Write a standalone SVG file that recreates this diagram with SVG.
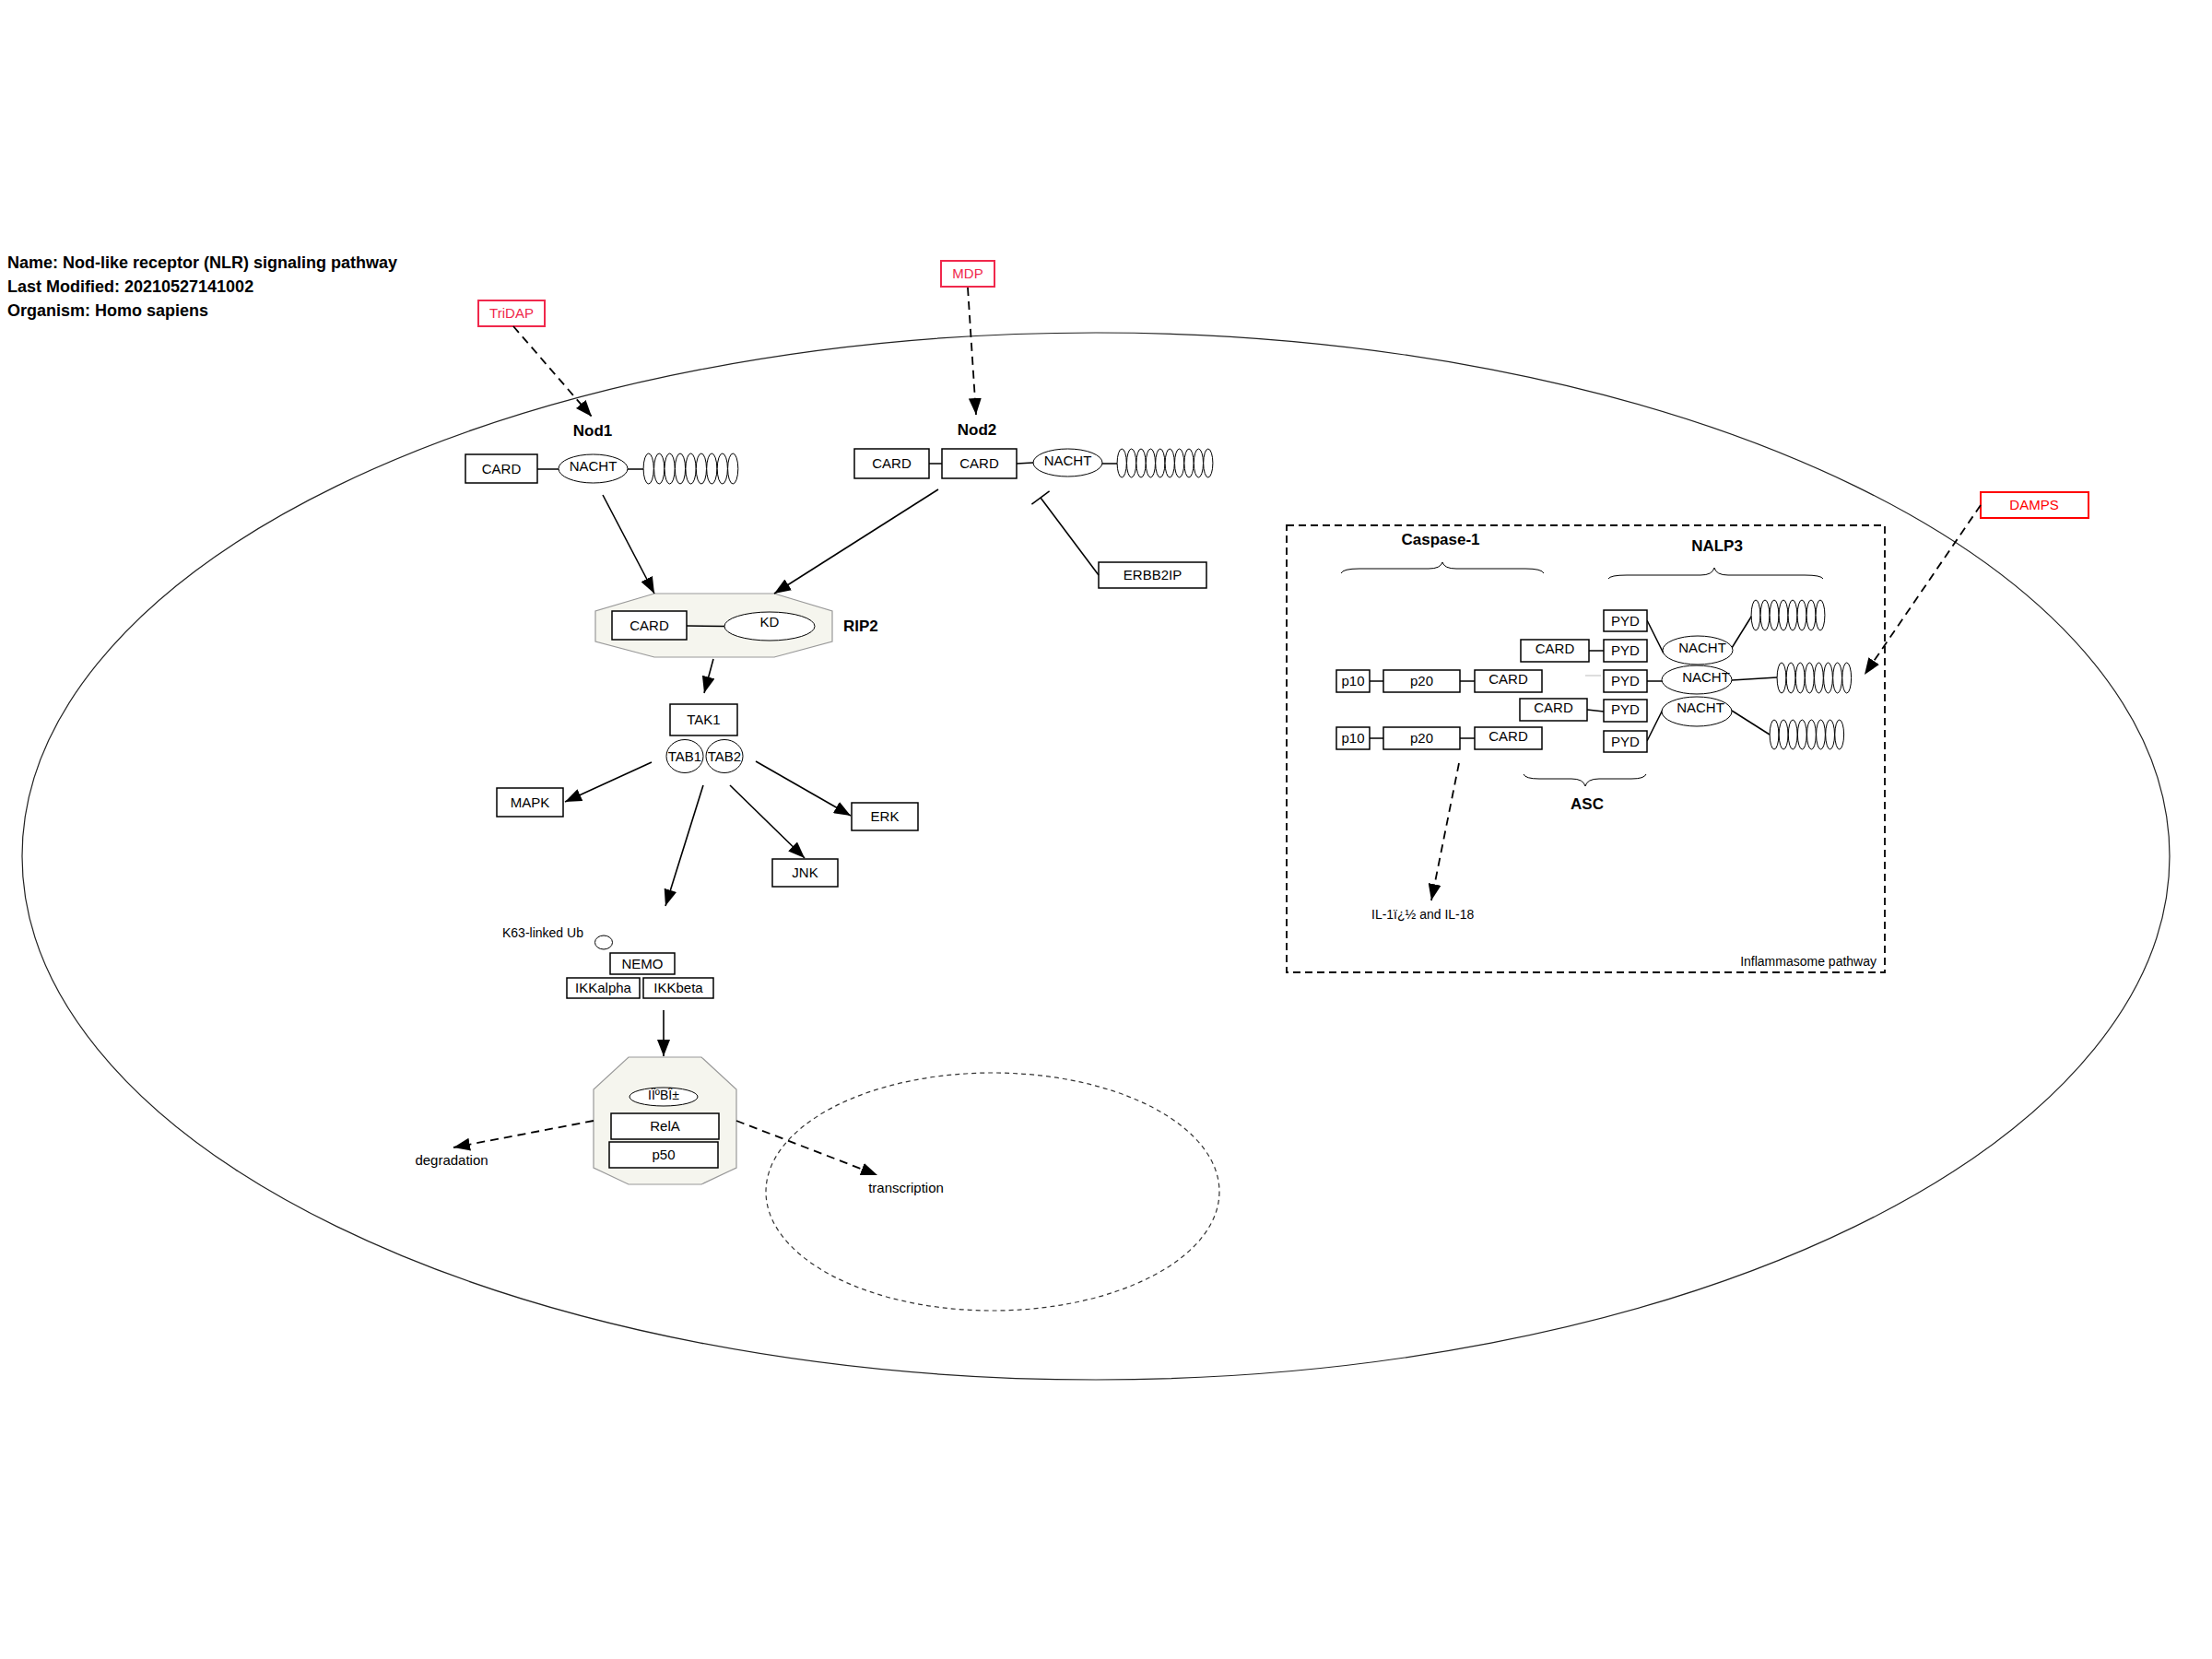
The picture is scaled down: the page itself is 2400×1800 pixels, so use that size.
<svg xmlns="http://www.w3.org/2000/svg" width="2400" height="1800" viewBox="0 0 2400 1800">
<style>
text{font-family:"Liberation Sans",Arial,sans-serif;fill:#000}
.t{font-size:15px;text-anchor:middle}
.s{font-size:14px}
.b{font-size:17px;font-weight:bold}
.h{font-size:18px;font-weight:bold}
.box{fill:#fff;stroke:#000;stroke-width:1.5}
.ov{fill:#fff;stroke:#000;stroke-width:1}
.coil{fill:#fff;stroke:#000;stroke-width:1}
.ln{stroke:#000;stroke-width:1.5;fill:none}
.arr{stroke:#000;stroke-width:1.6;fill:none;marker-end:url(#ah)}
.dash{stroke:#000;stroke-width:1.8;fill:none;stroke-dasharray:9,6;marker-end:url(#ah)}
.oct{fill:#f5f5ee;stroke:#999;stroke-width:1.2}
.red1{fill:#fff;stroke:#f0284c;stroke-width:2}
.red2{fill:#fff;stroke:#ff0000;stroke-width:2}
.brace{fill:none;stroke:#000;stroke-width:1}
</style>
<defs>
<marker id="ah" markerUnits="userSpaceOnUse" markerWidth="20" markerHeight="14" refX="18" refY="7" orient="auto">
<path d="M0,0 L18,7 L0,14 z" fill="#000"/>
</marker>
</defs>
<rect width="2400" height="1800" fill="#fff"/>

<g id="header">
<text class="h" x="8" y="291">Name: Nod-like receptor (NLR) signaling pathway</text>
<text class="h" x="8" y="317">Last Modified: 20210527141002</text>
<text class="h" x="8" y="343">Organism: Homo sapiens</text>
</g>

<g id="cell"><ellipse cx="1189" cy="929" rx="1165" ry="568" fill="none" stroke="#222" stroke-width="1.2"/></g>
<g id="nucleus"><ellipse cx="1077" cy="1293" rx="246" ry="129" fill="none" stroke="#333" stroke-width="1.2" stroke-dasharray="5,4"/></g>

<g id="TriDAP"><rect class="red1" x="519" y="326" width="72" height="28"/><text class="t" x="555" y="345" style="fill:#f0284c">TriDAP</text></g>
<g id="MDP"><rect class="red1" x="1021" y="283" width="58" height="28"/><text class="t" x="1050" y="302" style="fill:#f0284c">MDP</text></g>
<g id="DAMPS"><rect class="red2" x="2149" y="534" width="117" height="28"/><text class="t" x="2207" y="553" style="fill:#ff0000">DAMPS</text></g>

<g id="Nod1">
<text class="b" x="643" y="473" text-anchor="middle">Nod1</text>
<line class="ln" x1="583" y1="509" x2="606" y2="509"/>
<line class="ln" x1="681" y1="509" x2="698" y2="509"/>
<rect class="box" x="505" y="493" width="78" height="31"/><text class="t" x="544" y="514">CARD</text>
<ellipse class="ov" cx="643.5" cy="508.5" rx="37.5" ry="15.5"/><text class="t" x="643.5" y="511">NACHT</text>
<g class="coil">
<ellipse cx="703.7" cy="508.5" rx="5.6" ry="16.5"/><ellipse cx="715.2" cy="508.5" rx="5.6" ry="16.5"/><ellipse cx="726.6" cy="508.5" rx="5.6" ry="16.5"/><ellipse cx="738" cy="508.5" rx="5.6" ry="16.5"/><ellipse cx="749.5" cy="508.5" rx="5.6" ry="16.5"/><ellipse cx="760.9" cy="508.5" rx="5.6" ry="16.5"/><ellipse cx="772.3" cy="508.5" rx="5.6" ry="16.5"/><ellipse cx="783.8" cy="508.5" rx="5.6" ry="16.5"/><ellipse cx="795.2" cy="508.5" rx="5.6" ry="16.5"/>
</g>
</g>

<g id="Nod2">
<text class="b" x="1060" y="472" text-anchor="middle">Nod2</text>
<line class="ln" x1="1008" y1="503" x2="1022" y2="503"/>
<line class="ln" x1="1103" y1="503" x2="1121" y2="502"/>
<line class="ln" x1="1196" y1="503" x2="1212" y2="503"/>
<rect class="box" x="927" y="487" width="81" height="32"/><text class="t" x="967.5" y="508">CARD</text>
<rect class="box" x="1022" y="487" width="81" height="32"/><text class="t" x="1062.5" y="508">CARD</text>
<ellipse class="ov" cx="1158.5" cy="502" rx="37.5" ry="15"/><text class="t" x="1158.5" y="505">NACHT</text>
<g class="coil">
<ellipse cx="1217.2" cy="502.5" rx="5.1" ry="15.5"/><ellipse cx="1227.6" cy="502.5" rx="5.1" ry="15.5"/><ellipse cx="1238" cy="502.5" rx="5.1" ry="15.5"/><ellipse cx="1248.4" cy="502.5" rx="5.1" ry="15.5"/><ellipse cx="1258.8" cy="502.5" rx="5.1" ry="15.5"/><ellipse cx="1269.2" cy="502.5" rx="5.1" ry="15.5"/><ellipse cx="1279.6" cy="502.5" rx="5.1" ry="15.5"/><ellipse cx="1290" cy="502.5" rx="5.1" ry="15.5"/><ellipse cx="1300.4" cy="502.5" rx="5.1" ry="15.5"/><ellipse cx="1310.8" cy="502.5" rx="5.1" ry="15.5"/>
</g>
</g>

<g id="ERBB2IP"><rect class="box" x="1192" y="610" width="117" height="28"/><text class="t" x="1250.5" y="629">ERBB2IP</text></g>

<g id="RIP2">
<polygon class="oct" points="710,644 840,644 903,663 903,696 840,713 710,713 646,696 646,663"/>
<line class="ln" x1="745" y1="679" x2="786" y2="679.5"/>
<rect class="box" x="664" y="663" width="81" height="31"/><text class="t" x="704.5" y="684">CARD</text>
<ellipse class="ov" cx="835" cy="679.5" rx="49" ry="15.5"/><text class="t" x="835" y="680">KD</text>
<text class="b" x="915" y="685">RIP2</text>
</g>

<g id="TAK1"><rect class="box" x="727" y="764" width="73" height="34"/><text class="t" x="763.5" y="786">TAK1</text></g>
<g id="TAB1"><ellipse class="ov" cx="743" cy="820.5" rx="20" ry="18"/><text class="t" x="743" y="826">TAB1</text></g>
<g id="TAB2"><ellipse class="ov" cx="786" cy="820.5" rx="20" ry="18"/><text class="t" x="786" y="826">TAB2</text></g>
<g id="MAPK"><rect class="box" x="539" y="855" width="72" height="31"/><text class="t" x="575" y="876">MAPK</text></g>
<g id="ERK"><rect class="box" x="924" y="871" width="72" height="30"/><text class="t" x="960" y="891">ERK</text></g>
<g id="JNK"><rect class="box" x="838" y="932" width="71" height="30"/><text class="t" x="873.5" y="952">JNK</text></g>

<g id="K63Ub"><text class="s" x="545" y="1017">K63-linked Ub</text><ellipse class="ov" cx="655" cy="1022.5" rx="9.5" ry="7.5"/></g>
<g id="NEMO"><rect class="box" x="662" y="1034" width="70" height="23"/><text class="t" x="697" y="1051">NEMO</text></g>
<g id="IKKalpha"><rect class="box" x="615" y="1061" width="79" height="22"/><text class="t" x="654.5" y="1077">IKKalpha</text></g>
<g id="IKKbeta"><rect class="box" x="698" y="1061" width="76" height="22"/><text class="t" x="736" y="1077">IKKbeta</text></g>

<g id="NFkB">
<polygon class="oct" points="682,1147 761,1147 799,1182 799,1267 761,1285 682,1285 644,1267 644,1182"/>
<ellipse class="ov" cx="720" cy="1190" rx="37" ry="10"/><text class="t" x="720" y="1193" style="font-size:14px">IÎºBÎ±</text>
<rect class="box" x="663" y="1208" width="117" height="28"/><text class="t" x="721.5" y="1227">RelA</text>
<rect class="box" x="661" y="1239" width="118" height="28"/><text class="t" x="720" y="1258">p50</text>
</g>

<g id="degradation"><text class="t" x="490" y="1264">degradation</text></g>
<g id="transcription"><text class="t" x="983" y="1294">transcription</text></g>

<g id="inflammasome">
<rect x="1396" y="570" width="649" height="485" fill="none" stroke="#000" stroke-width="1.8" stroke-dasharray="8,5"/>
<text class="s" x="2036" y="1048" text-anchor="end">Inflammasome pathway</text>
<text class="b" x="1563" y="591" text-anchor="middle">Caspase-1</text>
<text class="b" x="1863" y="598" text-anchor="middle">NALP3</text>
<text class="b" x="1722" y="878" text-anchor="middle">ASC</text>
<path class="brace" d="M1455,622 Q1457,617 1475,617 L1550,617 Q1563,617 1565,610 Q1567,617 1580,617 L1655,617 Q1673,617 1675,622"/>
<path class="brace" d="M1745,628 Q1747,624 1765,624 L1845,624 Q1858,624 1860,616 Q1862,624 1875,624 L1958,624 Q1976,624 1978,628"/>
<path class="brace" d="M1653,840 Q1655,845 1670,845 L1705,845 Q1718,845 1720,853 Q1722,845 1735,845 L1770,845 Q1784,845 1786,840"/>

<g id="casp1a">
<line class="ln" x1="1486" y1="739" x2="1501" y2="739"/><line class="ln" x1="1584" y1="739" x2="1600" y2="739"/>
<rect class="box" x="1450" y="727" width="36" height="24"/><text class="t" x="1468" y="744">p10</text>
<rect class="box" x="1501" y="727" width="83" height="24"/><text class="t" x="1542.5" y="744">p20</text>
<rect class="box" x="1600" y="727" width="73" height="24"/><text class="t" x="1636.5" y="742">CARD</text>
</g>
<g id="casp1b">
<line class="ln" x1="1486" y1="801" x2="1501" y2="801"/><line class="ln" x1="1584" y1="801" x2="1600" y2="801"/>
<rect class="box" x="1450" y="789" width="36" height="24"/><text class="t" x="1468" y="806">p10</text>
<rect class="box" x="1501" y="789" width="83" height="24"/><text class="t" x="1542.5" y="806">p20</text>
<rect class="box" x="1600" y="789" width="73" height="24"/><text class="t" x="1636.5" y="804">CARD</text>
</g>
<g id="asc1">
<line class="ln" x1="1724" y1="706" x2="1740" y2="706"/>
<rect class="box" x="1650" y="694" width="74" height="24"/><text class="t" x="1687" y="709">CARD</text>
<rect class="box" x="1740" y="694" width="47" height="24"/><text class="t" x="1763.5" y="711">PYD</text>
</g>
<g id="asc2">
<line class="ln" x1="1722" y1="770" x2="1740" y2="772"/>
<rect class="box" x="1649" y="758" width="73" height="24"/><text class="t" x="1685.5" y="773">CARD</text>
<rect class="box" x="1740" y="759" width="47" height="24"/><text class="t" x="1763.5" y="775">PYD</text>
</g>
<line x1="1720" y1="733" x2="1737" y2="733" stroke="#bbb" stroke-width="1"/>
<g id="nalp3a">
<line class="ln" x1="1787" y1="673" x2="1805" y2="709"/>
<line class="ln" x1="1879" y1="703" x2="1902" y2="666"/>
<rect class="box" x="1740" y="662" width="47" height="23"/><text class="t" x="1763.5" y="679">PYD</text>
<ellipse class="ov" cx="1842" cy="705.5" rx="38" ry="15.5"/><text class="t" x="1847" y="708">NACHT</text>
<g class="coil"><ellipse cx="1905" cy="667.5" rx="4.9" ry="16.5"/><ellipse cx="1915" cy="667.5" rx="4.9" ry="16.5"/><ellipse cx="1925" cy="667.5" rx="4.9" ry="16.5"/><ellipse cx="1935" cy="667.5" rx="4.9" ry="16.5"/><ellipse cx="1945" cy="667.5" rx="4.9" ry="16.5"/><ellipse cx="1955" cy="667.5" rx="4.9" ry="16.5"/><ellipse cx="1965" cy="667.5" rx="4.9" ry="16.5"/><ellipse cx="1975" cy="667.5" rx="4.9" ry="16.5"/></g>
</g>
<g id="nalp3b">
<line class="ln" x1="1787" y1="739" x2="1803" y2="739"/>
<line class="ln" x1="1879" y1="738" x2="1928" y2="735"/>
<rect class="box" x="1740" y="727" width="47" height="24"/><text class="t" x="1763.5" y="744">PYD</text>
<ellipse class="ov" cx="1841" cy="737.5" rx="38" ry="15.5"/><text class="t" x="1851" y="740">NACHT</text>
<g class="coil"><ellipse cx="1933" cy="735.5" rx="4.9" ry="16.5"/><ellipse cx="1943.1" cy="735.5" rx="4.9" ry="16.5"/><ellipse cx="1953.2" cy="735.5" rx="4.9" ry="16.5"/><ellipse cx="1963.3" cy="735.5" rx="4.9" ry="16.5"/><ellipse cx="1973.4" cy="735.5" rx="4.9" ry="16.5"/><ellipse cx="1983.5" cy="735.5" rx="4.9" ry="16.5"/><ellipse cx="1993.6" cy="735.5" rx="4.9" ry="16.5"/><ellipse cx="2003.7" cy="735.5" rx="4.9" ry="16.5"/></g>
</g>
<g id="nalp3c">
<line class="ln" x1="1787" y1="804" x2="1804" y2="770"/>
<line class="ln" x1="1879" y1="771" x2="1920" y2="797"/>
<rect class="box" x="1740" y="793" width="47" height="23"/><text class="t" x="1763.5" y="810">PYD</text>
<ellipse class="ov" cx="1841" cy="772" rx="38" ry="16"/><text class="t" x="1845" y="773">NACHT</text>
<g class="coil"><ellipse cx="1925" cy="797" rx="4.9" ry="16"/><ellipse cx="1935.1" cy="797" rx="4.9" ry="16"/><ellipse cx="1945.2" cy="797" rx="4.9" ry="16"/><ellipse cx="1955.3" cy="797" rx="4.9" ry="16"/><ellipse cx="1965.4" cy="797" rx="4.9" ry="16"/><ellipse cx="1975.5" cy="797" rx="4.9" ry="16"/><ellipse cx="1985.6" cy="797" rx="4.9" ry="16"/><ellipse cx="1995.7" cy="797" rx="4.9" ry="16"/></g>
</g>
<g id="IL1b"><text class="s" x="1488" y="997">IL-1ï¿½ and IL-18</text></g>
</g>

<g id="connectors">
<line class="dash" x1="557" y1="354" x2="642" y2="452"/>
<line class="dash" x1="1050" y1="312" x2="1059" y2="450"/>
<line class="dash" x1="2149" y1="548" x2="2023" y2="732"/>
<line class="dash" x1="1583" y1="828" x2="1553" y2="977"/>
<line class="dash" x1="644" y1="1216" x2="492" y2="1245"/>
<line class="dash" x1="799" y1="1216" x2="952" y2="1275"/>
<line class="arr" x1="654" y1="537" x2="710" y2="644"/>
<line class="arr" x1="1018" y1="531" x2="840" y2="644"/>
<line class="arr" x1="774" y1="715" x2="764" y2="752"/>
<line class="arr" x1="707" y1="827" x2="613" y2="870"/>
<line class="arr" x1="820" y1="826" x2="923" y2="885"/>
<line class="arr" x1="792" y1="852" x2="873" y2="931"/>
<line class="arr" x1="763" y1="852" x2="722" y2="983"/>
<line class="arr" x1="720" y1="1096" x2="720" y2="1146"/>
<line class="ln" x1="1192" y1="624" x2="1129" y2="540"/>
<line class="ln" x1="1119.4" y1="547.2" x2="1138.6" y2="532.8"/>
</g>
</svg>
